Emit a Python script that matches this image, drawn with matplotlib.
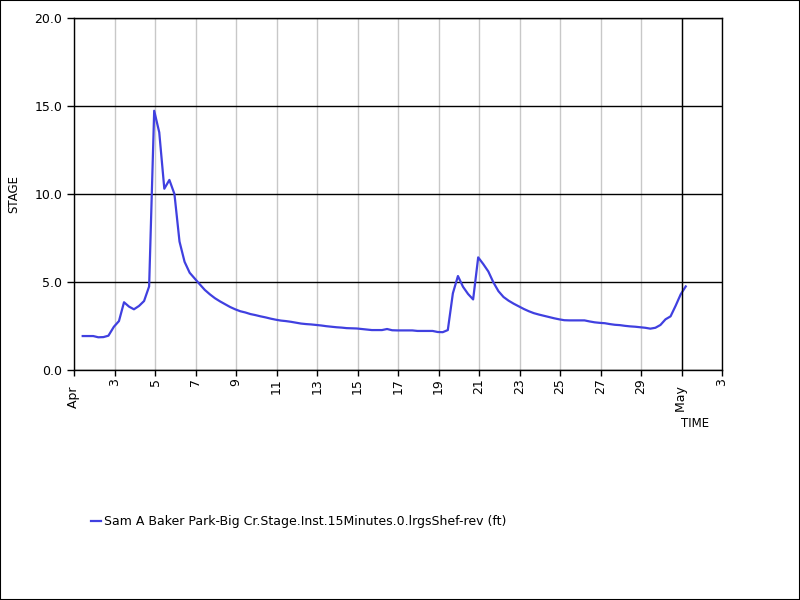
import matplotlib
matplotlib.use("Agg")
import matplotlib.pyplot as plt
import matplotlib.dates as mdates
from matplotlib.patches import Rectangle
from matplotlib.ticker import FuncFormatter
import numpy as np
import pandas as pd

# ========= Data (day of April, fractional; >30 runs into May) ============
days = [1.43, 1.95, 2.2, 2.45, 2.7, 2.97, 3.22, 3.47, 3.72, 3.96,
        4.21, 4.46, 4.71, 4.96, 5.21, 5.46, 5.71, 5.96, 6.21, 6.46,
        6.71, 6.96, 7.21, 7.46, 7.71, 7.96, 8.21, 8.46, 8.71, 8.96,
        9.21, 9.46, 9.71, 9.96, 10.21, 10.46, 10.71, 10.96, 11.21, 11.46,
        11.71, 11.96, 12.21, 12.46, 12.71, 12.96, 13.21, 13.46, 13.71, 13.96,
        14.21, 14.46, 14.71, 14.96, 15.21, 15.46, 15.71, 15.96, 16.21, 16.46,
        16.71, 16.96, 17.21, 17.46, 17.71, 17.96, 18.21, 18.46, 18.71, 18.96,
        19.21, 19.46, 19.71, 19.96, 20.21, 20.46, 20.71, 20.96, 21.21, 21.46,
        21.71, 21.96, 22.21, 22.46, 22.71, 22.96, 23.21, 23.46, 23.71, 23.96,
        24.21, 24.46, 24.71, 24.96, 25.21, 25.46, 25.71, 25.96, 26.21, 26.46,
        26.71, 26.96, 27.21, 27.46, 27.71, 27.96, 28.21, 28.46, 28.71, 28.96,
        29.21, 29.46, 29.71, 29.96, 30.21, 30.46, 30.71, 30.96, 31.21]

stage = [1.93, 1.93, 1.86, 1.87, 1.95, 2.46, 2.78, 3.85, 3.6, 3.45,
         3.64, 3.92, 4.75, 14.73, 13.5, 10.3, 10.8, 10.0, 7.3, 6.15,
         5.53, 5.2, 4.87, 4.55, 4.3, 4.08, 3.9, 3.74, 3.58, 3.45,
         3.34, 3.27, 3.18, 3.12, 3.05, 2.99, 2.92, 2.86, 2.81, 2.78,
         2.74, 2.69, 2.64, 2.61, 2.59, 2.56, 2.53, 2.49, 2.46, 2.43,
         2.41, 2.38, 2.37, 2.36, 2.33, 2.30, 2.27, 2.27, 2.27, 2.33,
         2.26, 2.25, 2.25, 2.25, 2.25, 2.22, 2.22, 2.22, 2.22, 2.16,
         2.15, 2.27, 4.36, 5.34, 4.73, 4.32, 4.01, 6.4, 6.02, 5.6,
         4.98, 4.48, 4.15, 3.94, 3.77, 3.62, 3.47, 3.34, 3.23, 3.15,
         3.08, 3.01, 2.94, 2.88, 2.83, 2.82, 2.82, 2.82, 2.82, 2.76,
         2.71, 2.68, 2.66, 2.61, 2.57, 2.55, 2.51, 2.48, 2.46, 2.43,
         2.40, 2.35, 2.40, 2.56, 2.88, 3.05, 3.65, 4.3, 4.75]

series_label = "Sam A Baker Park-Big Cr.Stage.Inst.15Minutes.0.lrgsShef-rev (ft)"
y_ticks = [0, 5, 10, 15, 20]

start = pd.Timestamp("2021-04-01")
times = [start + pd.Timedelta(days=d - 1) for d in days]

# ========= Plot configuration ============
plt.rcParams['font.family'] = ['DejaVu Sans']
fig = plt.figure(figsize=(8, 6), dpi=100)
ax = fig.add_axes([0.0925, 0.3833, 0.81, 0.5867])

line, = ax.plot(times, stage, color='#4040e0', lw=1.6, label=series_label)

ax.set_ylim(0, 20)
ax.set_yticks(y_ticks)
ax.yaxis.set_major_formatter(FuncFormatter(lambda v, p: "%.1f" % v))
ax.set_xlim(start, pd.Timestamp("2021-05-03"))

ax.xaxis.set_major_locator(mdates.DayLocator(bymonthday=range(1, 31, 2)))
def fmt_date(x, pos):
    dt = mdates.num2date(x)
    # month names sit a little lower than the day numbers
    return dt.strftime("%b") + "  " if dt.day == 1 else str(dt.day)
ax.xaxis.set_major_formatter(FuncFormatter(fmt_date))
plt.setp(ax.get_xticklabels(), rotation=90, ha='center', va='top')

ax.tick_params(axis='both', labelsize=9, direction='out', length=5, width=1, color='black')
ax.tick_params(axis='x', length=4, pad=2)

# grid: grey verticals, black horizontals, black line at month start
ax.grid(axis='x', color='#c8c8c8', lw=1)
ax.grid(axis='y', color='black', lw=1)
ax.axvline(pd.Timestamp("2021-05-01"), color='black', lw=1)
ax.set_axisbelow(True)
for s in ax.spines.values():
    s.set_color('black')
    s.set_linewidth(1)

ax.set_ylabel("STAGE", fontsize=8.5)
ax.yaxis.set_label_coords(-0.083, 0.5)
ax.text(0.958, -0.153, "TIME", transform=ax.transAxes, fontsize=8.5,
        ha='center', va='center')

fig.legend(handles=[line], loc='center left', bbox_to_anchor=(0.108, 0.131),
           frameon=False, fontsize=9, handlelength=0.8, handletextpad=0.2,
           borderaxespad=0)

fig.patches.append(Rectangle((0, 0), 1, 1, transform=fig.transFigure,
                             fill=False, edgecolor='black', lw=1.5))

fig.savefig("out.png", dpi=100)
